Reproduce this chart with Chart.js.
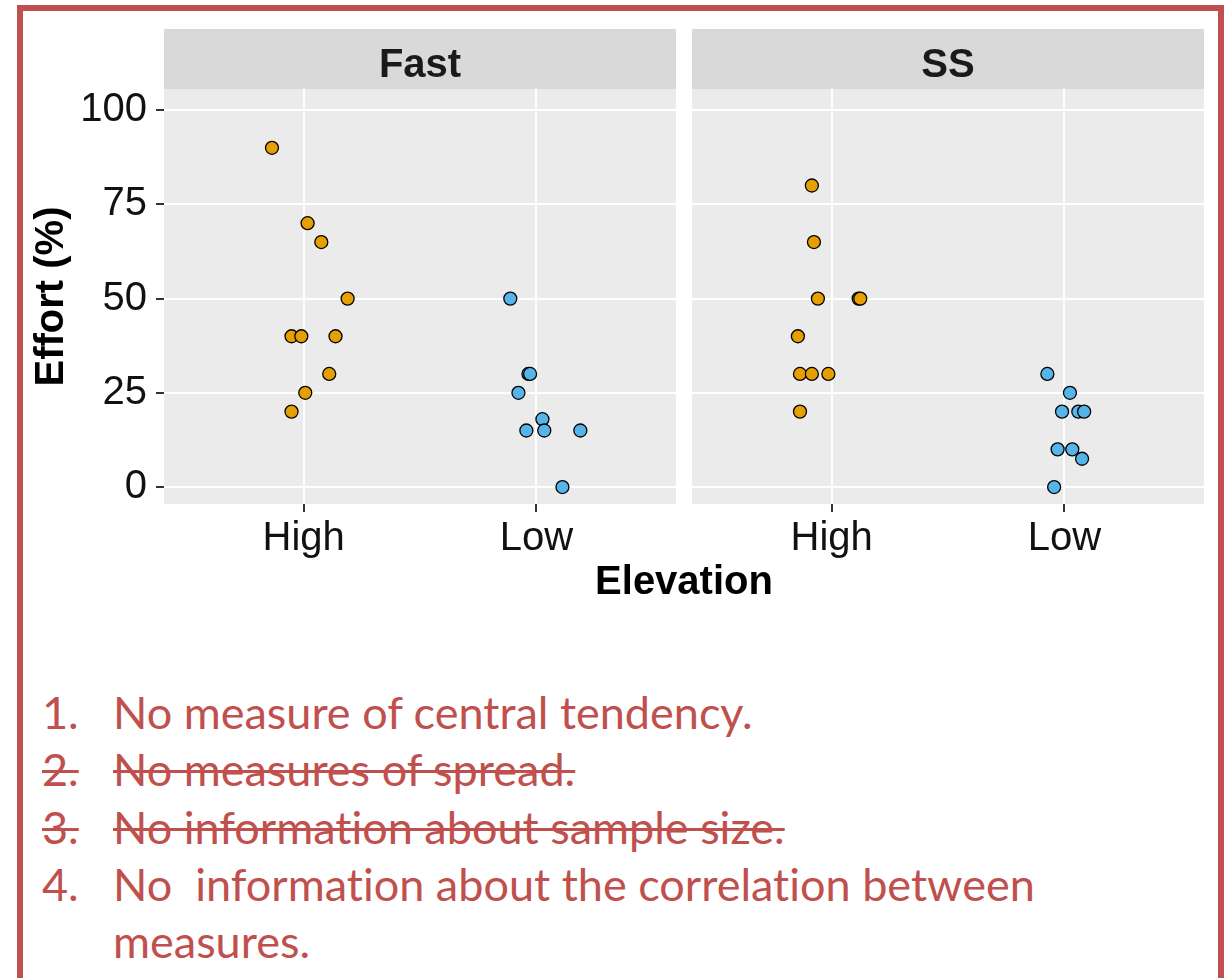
<!DOCTYPE html>
<html>
<head>
<meta charset="utf-8">
<script src="https://cdn.jsdelivr.net/npm/chart.js@4/dist/chart.umd.min.js"></script>
<style>
  html, body { margin: 0; padding: 0; background: #fff; overflow: hidden; }
  body { width: 1230px; height: 978px; position: relative; }
  #frame {
    position: absolute; left: 17px; top: 5px; width: 1195px; height: 1100px;
    border: 6px solid #C0504D; box-sizing: content-box;
  }
  #plot { position: absolute; left: 0; top: 0; width: 1230px; height: 620px; }
  #notes {
    position: absolute; left: 42px; top: 684px;
    font-family: Lato, "Open Sans", sans-serif; font-size: 45px; line-height: 57.25px;
    font-variant-ligatures: none; font-feature-settings: "liga" 0, "clig" 0;
    color: #C0504D; white-space: pre; tab-size: 71px;
  }
  #notes .line { display: block; }
  #notes .done { text-decoration: line-through; text-decoration-thickness: 3px; text-decoration-color: #C0504D; }
</style>
</head>
<body>
<div id="frame"></div>
<div id="plot"><canvas id="chart" width="1230" height="620"></canvas></div>
<div id="notes"><span class="line">1.	No measure of central tendency.</span><span class="line done">2.	No measures of spread.</span><span class="line done">3.	No information about sample size.</span><span class="line">4.	No  information about the correlation between</span><span class="line">	measures.</span></div>
<script>
// Facets and x categories
const facets = ['Fast', 'SS'];
const elevations = ['High', 'Low'];
const yTicks = [0, 25, 50, 75, 100];

// Effort (%) for each facet / elevation, with each point's horizontal jitter
const fastHighEffort = [90, 70, 65, 50, 40, 40, 40, 30, 25, 20];
const fastHighJitter = [-0.136, 0.017, 0.076, 0.189, -0.052, -0.010, 0.137, 0.110, 0.007, -0.052];
const fastLowEffort  = [50, 30, 30, 25, 18, 15, 15, 15, 0];
const fastLowJitter  = [-0.112, -0.034, -0.027, -0.077, 0.026, -0.043, 0.034, 0.189, 0.112];
const ssHighEffort   = [80, 65, 50, 50, 50, 40, 30, 30, 30, 20];
const ssHighJitter   = [-0.085, -0.076, -0.059, 0.116, 0.123, -0.145, -0.136, -0.085, -0.014, -0.136];
const ssLowEffort    = [30, 25, 20, 20, 20, 10, 10, 7.5, 0];
const ssLowJitter    = [-0.073, 0.024, -0.010, 0.060, 0.085, -0.029, 0.034, 0.076, -0.044];

const elevationColors = { High: '#E69F00', Low: '#56B4E9' };

// Facet layout on a single linear x scale: each panel spans 2.2 category units
const panelExpand = 0.6;
const panelGap = 0.06875;
const panelSpan = (elevations.length - 1) + 2 * panelExpand;
const panelStart = i => 1 - panelExpand + i * (panelSpan + panelGap);
const categoryPos = (facetIdx, elevIdx) => panelStart(facetIdx) + panelExpand + elevIdx;

const xTickValues = [];
const xTickLabels = [];
facets.forEach((f, fi) => elevations.forEach((e, ei) => {
  xTickValues.push(categoryPos(fi, ei));
  xTickLabels.push(e);
}));

const groups = [
  { facet: 0, elev: 0, effort: fastHighEffort, jitter: fastHighJitter },
  { facet: 0, elev: 1, effort: fastLowEffort,  jitter: fastLowJitter },
  { facet: 1, elev: 0, effort: ssHighEffort,   jitter: ssHighJitter },
  { facet: 1, elev: 1, effort: ssLowEffort,    jitter: ssLowJitter }
];

const datasets = groups.map(g => ({
  label: facets[g.facet] + ' ' + elevations[g.elev],
  data: g.effort.map((v, i) => ({ x: categoryPos(g.facet, g.elev) + g.jitter[i], y: v })),
  backgroundColor: elevationColors[elevations[g.elev]],
  borderColor: '#000',
  borderWidth: 1.3,
  pointRadius: 6.5,
  pointHoverRadius: 6.5
}));

const FONT = '"Liberation Sans", Arial, Helvetica, sans-serif';
const STRIP_TOP = 29;

// Grey panel backgrounds, facet strips and the white gutter between panels
const facetPanels = {
  id: 'facetPanels',
  beforeDraw(chart) {
    const { ctx, chartArea: { top, bottom }, scales: { x } } = chart;
    ctx.save();
    facets.forEach((name, i) => {
      const l = x.getPixelForValue(panelStart(i));
      const r = x.getPixelForValue(panelStart(i) + panelSpan);
      ctx.fillStyle = '#EBEBEB';
      ctx.fillRect(l, top, r - l, bottom - top);
      ctx.fillStyle = '#D9D9D9';
      ctx.fillRect(l, STRIP_TOP, r - l, top - STRIP_TOP);
      ctx.fillStyle = '#1A1A1A';
      ctx.font = 'bold 40px ' + FONT;
      ctx.textAlign = 'center';
      ctx.textBaseline = 'alphabetic';
      ctx.fillText(name, (l + r) / 2, 77);
    });
    ctx.restore();
  },
  beforeDatasetsDraw(chart) {
    const { ctx, chartArea: { top, bottom }, scales: { x } } = chart;
    ctx.save();
    ctx.fillStyle = '#fff';
    for (let i = 0; i < facets.length - 1; i++) {
      const l = x.getPixelForValue(panelStart(i) + panelSpan);
      const r = x.getPixelForValue(panelStart(i + 1));
      ctx.fillRect(l, top - 1, r - l, bottom - top + 2);
    }
    ctx.restore();
  }
};

new Chart(document.getElementById('chart'), {
  type: 'scatter',
  data: { datasets },
  plugins: [facetPanels],
  options: {
    responsive: false,
    animation: false,
    events: [],
    layout: { padding: { left: 20, right: 26, top: 89, bottom: 17 } },
    plugins: { legend: { display: false }, tooltip: { enabled: false } },
    scales: {
      x: {
        type: 'linear',
        bounds: 'data',
        min: panelStart(0),
        max: panelStart(facets.length - 1) + panelSpan,
        afterBuildTicks: s => { s.ticks = xTickValues.map(v => ({ value: v })); },
        afterFit: s => { s.height = 99; },
        grid: { color: '#FFFFFF', lineWidth: 2, tickColor: '#333333', tickWidth: 2, tickLength: 8 },
        border: { display: false },
        ticks: {
          autoSkip: false, maxRotation: 0, minRotation: 0, padding: 7,
          color: '#111', font: { family: FONT, size: 40, lineHeight: 1 },
          callback: (v, i) => xTickLabels[i]
        },
        title: {
          display: true, text: 'Elevation', color: '#000',
          font: { family: FONT, size: 40, weight: 'bold', lineHeight: 1 },
          padding: { top: 0, bottom: 0 }
        }
      },
      y: {
        type: 'linear',
        bounds: 'data',
        min: -4.5,
        max: 105.6,
        afterBuildTicks: s => { s.ticks = yTicks.map(v => ({ value: v })); },
        afterFit: s => { s.width = 144; },
        grid: { color: '#FFFFFF', lineWidth: 2, tickColor: '#333333', tickWidth: 2, tickLength: 8 },
        border: { display: false },
        ticks: { padding: 9, color: '#111', font: { family: FONT, size: 40, lineHeight: 1 } },
        title: {
          display: true, text: 'Effort (%)', color: '#000',
          font: { family: FONT, size: 40, weight: 'bold', lineHeight: 1 },
          padding: { top: 12, bottom: 0 }
        }
      }
    }
  }
});
</script>
</body>
</html>
